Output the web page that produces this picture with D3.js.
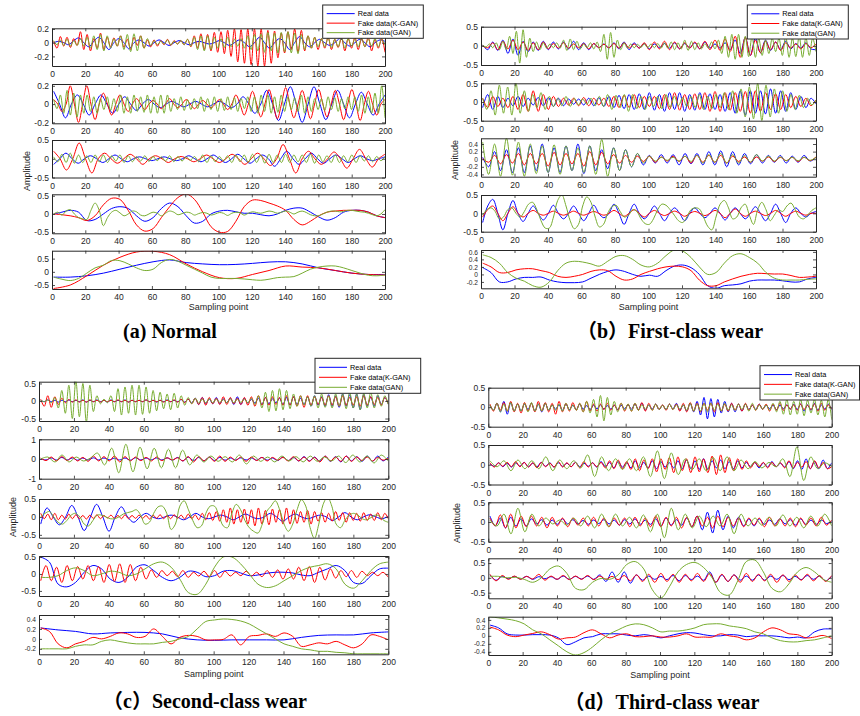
<!DOCTYPE html>
<html><head><meta charset="utf-8">
<script src="https://cdn.jsdelivr.net/npm/d3@7"></script>
<style>
body{margin:0;background:#fff}
svg{display:block}
</style></head><body>
<svg id="fig" width="860" height="716"></svg>
<script>
// ---- (a) Normal ----
const aReal1 = [0,.02,0,-.03,.03,.07,0,-.06,.02,.08,0,-.1,0,.06,0,-.09,0,.04,0,-.05,0,.04,0,-.04,0,.03,0,-.03,0,.02,0,-.02,0,.03,0,-.04,0,.04,0,-.06,0,.08,0,-.08,0,.06,0,-.1,0,.09,0,-.06,0,.05,0,-.04,0,.06,0,-.05,0,.05,0,-.06,0,.04,.02];
const aKgan1 = [.02,-.08,.09,-.05,.08,-.07,.06,-.04,.16,-.1,.12,-.12,.06,-.08,.14,-.1,.08,-.06,.07,-.05,.1,-.07,.05,-.1,.08,-.04,.1,-.08,.04,-.06,.04,-.05,.03,-.03,.05,-.04,.03,-.02,.03,-.03,.05,-.06,.1,-.08,.13,-.1,.12,-.12,.15,-.14,.16,-.16,.18,-.2,.2,-.28,.19,-.3,.2,-.32,.2,-.34,.2,-.34,.18,-.3,.17,-.22,.14,-.15,.16,-.1,.2,-.14,.18,-.12,.1,-.08,.08,-.1,.06,-.08,.08,-.1,.05,-.07,.07,-.12,.06,-.08,.08,-.1,.06,-.06,.08,-.12,.05,-.08,.06,-.14];
const aGan1 = [.03,-.03,.04,-.04,.05,-.05,.03,-.04,.06,-.05,.08,-.08,.1,-.1,.12,-.12,.1,-.08,.06,-.05,.1,-.1,.12,-.13,.13,-.12,.1,-.08,.06,-.04,.03,-.03,.02,-.02,.04,-.03,.02,-.02,.03,-.03,.05,-.05,.08,-.1,.1,-.12,.1,-.1,.08,-.08,.06,-.07,.08,-.06,.05,-.05,.06,-.08,.1,-.1,.12,-.12,.13,-.14,.15,-.12,.14,-.15,.15,-.13,.16,-.15,.14,-.16,.12,-.1,.1,-.08,.08,-.06,.06,-.06,.07,-.07,.05,-.06,.08,-.08,.06,-.05,.05,-.06,.07,-.06,.05,-.05,.06,-.06,.05,-.04];
const aReal2 = [.14,0,-.15,0,.1,0,-.12,0,.1,0,-.1,0,.08,0,-.07,0,.05,0,-.04,0,.03,0,-.03,0,.03,0,-.03,0,.03,0,-.04,0,.08,0,-.1,0,.15,0,-.18,0,.19,0,-.2,0,.19,0,-.17,0,.15,0,-.15,0,.13,0,-.12,0,.1];
const aKgan2 = [.05,0,-.08,0,.2,0,-.2,0,.2,0,-.17,0,.12,0,-.12,0,.1,0,-.08,0,.06,0,-.06,0,.04,0,-.05,0,.06,0,-.04,0,.05,0,-.05,0,.04,0,-.04,0,.05,0,-.06,0,.1,0,-.12,0,.14,0,-.14,0,.16,0,-.16,0,.18,0,-.15,0,.15,0,-.16,0,.16,0,-.14,0,.15,0,-.17,0,.16,0,-.18,0,.14,0,-.12,0,.05];
const aGan2 = [.05,-.05,.1,-.1,.15,-.12,.12,-.14,.1,-.1,.1,-.08,.08,-.1,.06,-.06,.08,-.07,.06,-.08,.1,-.1,.08,-.1,.1,-.08,.08,-.09,.1,-.1,.08,-.1,.1,-.1,.1,-.08,.06,-.06,.08,-.07,.05,-.06,.06,-.05,.08,-.08,.06,-.06,.08,-.08,.06,-.07,.08,-.06,.07,-.08,.06,-.05,.08,-.08,.08,-.1,.1,-.08,.1,-.1,.08,-.09,.1,-.08,.08,-.06,.07,-.08,.1,-.1,.08,-.08,.06,-.06,.06,-.07,.08,-.06,.07,-.08,.06,-.05,.08,-.06,.08,-.08,.1,-.1,.08,-.1,.12,-.1,.2,-.15];
const aReal3 = [-.15,0,.15,0,-.12,0,.08,0,-.1,0,.1,0,-.08,0,.05,0,-.05,0,.05,0,-.05,0,.08,0,-.08,0,.1,0,-.1,0,.12,0,-.12,0,.1,0,-.2,0,.2,0,-.15,0,.15,0,-.12,0,.1,0,-.1,0,.08,0,-.05,0,.05];
const aKgan3 = [.2,0,-.3,0,.42,0,-.38,0,.15,0,-.12,0,.12,0,-.15,0,.08,0,-.1,0,.06,0,-.08,0,.1,0,-.1,0,.12,0,-.15,0,.15,0,-.18,0,.38,0,-.38,0,.2,0,-.15,0,.18,0,-.25,0,.25,0,-.22,0,.12];
const aGan3 = [.05,-.08,.12,-.1,.15,-.12,.1,-.1,.08,-.1,.1,-.08,.1,-.1,.08,-.06,.1,-.1,.08,-.08,.06,-.06,.08,-.07,.06,-.05,.05,-.06,.08,-.08,.06,-.06,.05,-.04,.06,-.08,.1,-.1,.08,-.08,.06,-.06,.08,-.1,.1,-.08,.1,-.1,.12,-.1,.1,-.12,.12,-.1,.1,-.1,.12,-.1,.1,-.08,.1,-.1,.12,-.12,.1,-.08,.08,-.1,.1,-.1,.08,-.08,.1,-.1,.08,-.06,.08,-.08,.06,-.05,.05];
const aReal4 = [0,.05,.1,.05,-.18,-.15,0,.15,.2,.15,-.05,-.2,-.1,.15,.3,.2,-.05,-.25,-.2,0,.08,.1,.06,.02,.02,-.02,-.05,0,.1,.16,.16,.05,-.08,-.17,-.1,.05,.1,.1,.05,-.05,-.1];
const aKgan4 = [0,-.02,-.05,-.1,-.18,-.05,.25,.43,.4,.1,-.3,-.47,-.4,-.1,.2,.45,.55,.4,.05,-.35,-.5,-.48,-.2,.2,.38,.37,.3,.22,.1,-.15,-.3,-.2,-.05,.05,.08,.1,.1,.1,.05,-.05,-.1];
const aGan4 = [0,.05,-.03,.08,.12,0,-.1,-.13,-.15,.1,.3,.1,-.32,-.1,.05,.1,.03,-.05,0,.08,.06,-.03,-.05,0,.05,.02,-.05,.02,.08,.05,-.02,.01,.05,.03,-.03,.01,.04,.02,-.03,0,.04,.02,-.04,.02,.05,.03,-.03,.02,.06,.04,.02,.05,.08,.06,.02,.05,.08,.05,0,.05,.08,.04,-.02,-.05,-.05,0,.05,.08,.08,.06,.07,.1,.1,.08,.06,.05,.02,-.02,-.05,0,.12];
const aReal5 = [-.2,-.2,-.15,-.05,.1,.25,.38,.45,.35,.3,.27,.28,.32,.37,.38,.3,.15,.05,-.05,-.1,-.1];
const aKgan5 = [-.63,-.5,-.15,.25,.55,.75,.78,.65,.3,0,-.22,-.25,-.1,.05,.22,.18,.15,.05,-.05,-.1,-.12];
const aGan5 = [-.2,-.28,-.33,-.25,-.05,.15,.25,.43,.42,.3,.15,.05,.1,.35,.47,.4,.25,.1,-.05,-.2,-.25,-.25,-.25,-.27,-.3,-.32,-.28,-.22,-.2,-.18,-.05,.1,.18,.22,.22,.15,.05,-.05,-.13,-.15,-.12];

// ---- (b) First-class wear ----
const bReal1 = [.02,-.1,.1,-.12,.15,-.2,.18,-.25,.12,-.15,.1,-.12,.12,-.1,.1,-.08,.1,-.08,.12,-.1,.08,-.1,.06,-.05,.05,-.06,.08,-.08,.1,-.1,.08,-.06,.06,-.08,.05,-.05,.06,-.06,.08,-.08,.06,-.05,.08,-.08,.1,-.06,.05,-.06,.08,-.1,.15,-.2,.22,-.25,.2,-.18,.15,-.12,.1,-.1,.12,-.08,.06,-.06,.08,-.08,-.1];
const bKgan1 = [0,-.05,.08,-.1,.12,-.08,.15,-.1,.1,-.12,.08,-.1,.1,-.08,.06,-.06,.08,-.06,.05,-.05,.06,-.08,.06,-.05,.04,-.05,.06,-.06,.08,-.06,.05,-.06,.08,-.1,.1,-.08,.12,-.1,.1,-.08,.08,-.06,.1,-.08,.12,-.1,.15,-.12,.18,-.15,.25,-.3,.22,-.25,.15,-.18,.12,-.1,.1,-.12,.08,-.06,.05,-.08,.06,-.05,.05];
const bGan1 = [.02,-.03,.05,-.05,.08,-.1,.12,-.1,.25,-.2,.38,-.45,.42,-.3,.2,-.15,.1,-.1,.08,-.06,.05,-.05,.08,-.06,.15,-.12,.18,-.1,.12,-.08,.05,-.05,.08,-.08,.1,-.15,.3,-.35,.35,-.3,.15,-.1,.08,-.06,.05,-.05,.04,-.04,.05,-.05,.05,-.05,.06,-.06,.08,-.06,.1,-.1,.08,-.08,.15,-.12,.12,-.1,.08,-.08,.06,-.06,.1,-.08,.15,-.2,.25,-.3,.3,-.35,.3,-.3,.25,-.28,.25,-.3,.2,-.25,.15,-.2,.2,-.15,.2,-.25,.25,-.3,.2,-.28,.25,-.3,.22,-.25,.2,-.15];
const bReal2 = [-.15,.2,-.2,.15,-.15,.1,-.1,.15,-.12,.1,-.08,.12,-.1,.12,-.12,.1,-.1,.08,-.06,.08,-.08,.1,-.1,.12,-.12,.15,-.15,.18,-.18,.2,-.2,.22,-.2,.25,-.22,.2,-.25,.25,-.2,.25,-.25,.2,-.22,.25,-.2,.22,-.2,.2,-.25,.25,-.3,.3,-.35,.3,-.3,.3,-.32,.35,-.3,.3,-.25,.25,-.2,.15,-.15,.1,-.05];
const bKgan2 = [.1,-.15,.15,-.12,.1,-.15,.15,-.2,.2,-.25,.3,-.25,.2,-.2,.15,-.12,.1,-.08,.1,-.1,.12,-.1,.1,-.08,.1,-.12,.15,-.15,.18,-.15,.2,-.15,.15,-.12,.15,-.18,.2,-.2,.25,-.22,.2,-.2,.22,-.2,.25,-.25,.28,-.25,.25,-.22,.25,-.25,.28,-.3,.3,-.25,.25,-.2,.22,-.2,.2,-.15,.15,-.12,.1,-.1,.05];
const bGan2 = [.1,-.2,.3,-.35,.45,-.3,.4,-.35,.5,-.3,.3,-.25,.2,-.15,.25,-.2,.15,-.12,.1,-.1,.15,-.12,.1,-.08,.08,-.06,.1,-.1,.15,-.12,.2,-.2,.18,-.15,.2,-.25,.2,-.18,.15,-.2,.15,-.12,.15,-.18,.2,-.15,.15,-.1,.12,-.12,.15,-.15,.2,-.2,.15,-.18,.2,-.15,.25,-.2,.3,-.3,.35,-.4,.4,-.45,.5,-.5,.45,-.4,.35,-.3,.3,-.25,.2,-.2,.18,-.15,.1,-.08,.05];
const bReal3 = [.05,-.2,.2,-.3,.25,-.35,.3,-.35,.35,-.3,.4,-.35,.3,-.35,.35,-.3,.4,-.38,.35,-.3,.25,-.25,.3,-.3,.25,-.2,.15,-.15,.1,-.1,.12,-.1,.12,-.15,.15,-.12,.15,-.15,.2,-.15,.22,-.2,.2,-.15,.15,-.12,.12,-.1,.1,-.08,.1,-.1,.08,-.08,.1,-.05,.05];
const bKgan3 = [.02,-.08,.1,-.12,.12,-.1,.15,-.15,.15,-.12,.15,-.18,.18,-.15,.15,-.12,.15,-.18,.2,-.15,.18,-.12,.12,-.1,.1,-.08,.08,-.06,.08,-.08,.06,-.05,.08,-.06,.08,-.1,.1,-.08,.1,-.08,.1,-.1,.08,-.06,.06,-.08,.06,-.05,.06,-.06,.05,-.04,.05,-.06,.05,-.04,.06];
const bGan3 = [.45,-.4,.4,-.45,.55,-.42,.45,-.45,.4,-.38,.35,-.35,.38,-.4,.35,-.3,.3,-.35,.35,-.4,.52,-.45,.3,-.3,.25,-.2,.15,-.1,.08,-.05,.05,-.03,.05,-.05,.08,-.06,.1,-.1,.12,-.08,.15,-.1,.12,-.1,.1,-.08,.12,-.05,.08,-.05,.06,-.04,.05,-.04,.05,-.03,.05];
const bReal4 = [-.25,.2,.38,0,-.45,0,.35,0,-.22,0,.2,0,-.18,0,.22,0,-.15,0,.2,0,-.2,0,.22,0,-.12,0,.25,0,-.3,0,.25,0,-.15,0,.2,0,-.2,0,.15,0,-.2,0,.15,0,-.12,0,.15,0,-.18,0,.15,0,-.15,0,.18,0,-.2,0,.25,0,-.25,0,.15,0,-.1,0,.05];
const bKgan4 = [-.1,.1,.2,0,-.2,0,.18,0,-.1,0,.08,0,-.05,0,.06,0,-.05,0,.06,0,-.05,0,.05,0,-.05,0,.08,0,-.08,0,.1,0,-.1,0,.08,0,-.06,0,.06,0,-.08,0,.05,0,-.06,0,.08,0,-.12,0,.12,0,-.08,0,.06,0,-.06,0,.08,0,-.08,0,.06,0,-.05,0,0];
const bGan4 = [-.05,.1,.15,.05,-.15,-.1,.1,.15,0,-.1,.05,.25,.3,.1,-.2,-.4,-.4,-.1,.35,.5,.2,-.2,-.42,-.3,.2,.45,.3,-.1,-.37,-.3,0,.18,.22,.05,-.1,-.05,.1,.05,-.15,-.28,-.3,-.15,.1,.25,.22,.1,-.05,-.2,-.25,-.1,.1,.15,.12,-.1,-.35,-.45,-.1,.25,.35,.15,-.15,-.1,.15,.25,-.05,-.3,.1,.3,.1,-.2,-.05,.1,.05,.2,.28,.1,-.1,-.15,-.05,.08,.15];
const bReal5 = [.18,.05,-.2,-.2,-.12,-.08,-.08,-.07,-.15,-.2,-.22,-.22,-.2,-.1,0,.08,.12,.08,0,-.05,-.02,-.05,.1,.22,.25,.18,0,-.3,-.37,-.3,-.28,-.25,-.18,-.15,-.15,-.15,-.17,-.2,-.2,-.12,-.08];
const bKgan5 = [.3,.2,.05,.05,.12,.15,.15,.1,.05,-.05,-.08,-.05,0,.08,.12,.1,-.05,-.15,-.12,0,.08,.15,.2,.22,.2,.1,-.15,-.3,-.3,-.2,-.12,-.05,0,.03,.02,.01,.01,-.03,-.08,-.07,-.05];
const bGan5 = [.52,.45,.3,.05,-.1,-.18,-.3,-.34,-.2,.1,.3,.35,.33,.28,.22,.35,.48,.5,.4,.25,.2,.3,.5,.65,.62,.45,.2,0,.05,.3,.5,.55,.45,.3,.05,-.1,-.15,-.15,-.15,-.13,-.12];

// ---- (c) Second-class wear ----
const cReal1 = [.02,-.02,.03,-.02,.02,-.03,.02,-.02,.03,-.02,.02,-.02,.03,-.03,.02,-.02,.03,-.02,.02,-.03,.03,-.02,.02,-.02,.03,-.03,.02,-.02,.02,-.02,.03,-.02,.02,-.03,.02,-.02,.03,-.02,.02,-.02,.04,-.03,.05,-.06,.08,-.1,.1,-.08,.06,-.08,.1,-.08,.06,-.05,.08,-.1,.12,-.1,.08,-.06,.05,-.06,.08,-.1,.1,-.08,.06,-.05,.08,-.1,.1,-.12,.12,-.1,.08,-.1,.12,-.15,.15,-.12,.12,-.15,.18,-.15,.15,-.18,.2,-.15,.18,-.2,.2,-.25,.18,-.15,.12,-.15,.15,-.1,.1,-.08];
const cKgan1 = [.05,-.15,.15,-.18,.12,-.1,.08,-.05,.04,-.03,.03,-.03,.02,-.03,.03,-.02,.02,-.03,.02,-.02,.02,-.02,.03,-.02,.02,-.03,.02,-.02,.02,-.02,.03,-.02,.02,-.02,.02,-.03,.02,-.02,.03,-.03,.05,-.05,.06,-.08,.08,-.1,.1,-.12,.1,-.08,.08,-.1,.12,-.1,.1,-.08,.08,-.1,.1,-.12,.12,-.15,.15,-.12,.1,-.12,.12,-.1,.1,-.12,.15,-.12,.12,-.15,.15,-.18,.15,-.12,.12,-.1,.1,-.12,.15,-.12,.12,-.15,.15,-.12,.1,-.12,.12,-.15,.15,-.12,.12,-.1,.1,-.12,.1,-.08];
const cGan1 = [.02,-.02,.03,-.05,.1,-.2,.3,-.35,.45,-.5,.57,-.45,.5,-.6,.45,-.3,.15,-.08,.05,-.05,.15,-.3,.35,-.4,.4,-.35,.45,-.4,.45,-.38,.4,-.35,.3,-.28,.25,-.22,.2,-.25,.22,-.2,.15,-.12,.1,-.08,.08,-.06,.05,-.05,.06,-.05,.05,-.04,.04,-.05,.06,-.05,.05,-.04,.05,-.05,.08,-.1,.15,-.2,.25,-.3,.3,-.28,.35,-.25,.3,-.22,.2,-.15,.15,-.12,.12,-.15,.15,-.2,.2,-.18,.15,-.2,.2,-.15,.2,-.22,.25,-.2,.2,-.25,.22,-.2,.25,-.2,.18,-.15,.15,-.1];
const cReal2 = [.02,-.05,.05,-.05,.08,-.05,.05,-.06,.05,-.05,.06,-.05,.05,-.04,.04,-.05,.05,-.06,.06,-.05,.05,-.04,.05,-.05,.06,-.06,.08,-.1,.1,-.08,.08,-.1,.1,-.08,.08,-.06,.05,-.05,.06,-.05,.05,-.06,.08,-.06,.05,-.08,.1,-.08,.08,-.1,.12,-.1,.1,-.12,.15,-.12,.12,-.15,.15,-.1,.12,-.12,.15,-.12,.15,-.1,.1];
const cKgan2 = [.05,-.08,.1,-.1,.12,-.08,.1,-.1,.08,-.12,.15,-.1,.12,-.1,.15,-.15,.12,-.1,.1,-.08,.08,-.1,.1,-.08,.06,-.05,.06,-.1,.12,-.15,.12,-.1,.1,-.12,.15,-.12,.1,-.08,.1,-.12,.1,-.08,.08,-.1,.08,-.06,.08,-.1,.12,-.1,.1,-.12,.08,-.15,.15,-.1,.1,-.12,.15,-.12,.1,-.08,.1,-.1,.08,-.06,.05];
const cGan2 = [0,.1,-.15,.2,-.15,.1,-.1,.05,.3,-.3,.55,-.7,.75,-.65,.6,-.5,.55,-.45,.5,-.45,.45,-.3,.2,-.15,.15,-.12,.12,-.15,.2,-.25,.15,-.12,.1,-.15,.15,-.1,.12,-.15,.15,-.12,.1,-.1,.15,-.18,.2,-.15,.15,-.2,.2,-.1];
const cReal3 = [-.2,.25,0,-.22,0,.32,0,-.38,0,.35,0,-.4,0,.28,0,-.15,0,.1,0,-.05,0,.05,0,-.08,0,.1,0,-.05,0,.05,0,-.08,0,.08,0,-.05,0,.1,0,-.12,0,.08,0,-.05,0,.05,0,-.1,0,.12,0,-.08,0,.06,0,-.05,.02];
const cKgan3 = [.1,-.05,.08,-.08,.1,-.08,.05,-.06,.08,-.05,.06,-.05,.04,-.06,.05,-.04,.06,-.05,.04,-.03,.05,-.04,.04,-.05,.06,-.05,.04,-.04,.05,-.04,.04,-.06,.05,-.04,.06,-.05,.04,-.05,.06,-.04,.05,-.06,.08,-.05,.06,-.08,.1,-.08,.12,-.1,.15,-.12,.2,-.15,.25,-.2,.2,-.15,.22,-.2,.2,-.25,.25,-.2,.18,-.22,.22,-.15,.2,-.2,.25,-.2,.2,-.18,.15,-.15,.18,-.2,.15,-.12,.12,-.15,.1,-.12,.15,-.1,.12,-.15,.12,-.1,.1,-.12,.12,-.1,.08,-.1,.12,-.08,.1,-.05];
const cGan3 = [0,.1,.15,0,-.15,-.2,-.1,.05,.1,0,-.2,-.25,-.1,.05,.05,0,-.05,-.05,0,.08,.12,.15,.2,.05,-.2,-.15,.1,.28,.3,.1,-.35,-.2,.3,.45,.2,-.1,-.3,-.25,.1,.3,.3,.05,-.25,-.3,.1,.35,.2,-.1,-.3,-.4,-.45,-.2,.15,.3,.45,.2,-.2,-.4,-.2,.2,.48,.3,-.3,-.6,-.2,.35,.55,.3,-.2,-.3,-.1,.05,.1,.05,-.05,-.08,-.02,.05,.02,-.1,-.15];
const cReal4 = [.5,.35,-.3,-.38,-.25,.05,.25,.15,-.15,-.25,-.1,.2,.27,.1,-.1,-.2,-.1,.08,.05,-.08,-.05,.08,.1,.03,-.05,-.03,.02,.05,.05,.03,-.03,-.05,.05,.15,.25,.1,-.25,-.28,-.05,.15,.17];
const cKgan4 = [-.2,.25,-.2,.2,-.25,.25,-.2,.22,-.15,.25,-.2,.22,-.25,.28,-.22,.3,-.25,.28,-.2,.2,-.15,.12,-.1,.1,-.05,.08,-.08,.1,-.1,.05,-.06,.08,-.08,.1,-.1,.08,-.06,.05,-.05,.08,-.06,.05,-.08,.1,-.1,.12,-.15,.15,-.15,.2,-.2,.22,-.25,.2,-.18,.15,-.12,.1,-.08,.1,-.1,.08,-.05,.05,-.05,.05,-.1];
const cGan4 = [-.1,-.1,-.05,.1,.18,.1,-.05,0,.08,.05,-.05,0,.15,.3,.35,.2,-.15,-.55,-.6,-.3,.2,.5,.5,.3,0,-.3,-.4,-.35,-.2,-.05,.1,.2,.25,.3,.15,-.3,-.42,-.2,.1,.3,.35];
const cReal5 = [.22,.18,.15,.1,.12,.13,.13,.1,.02,-.02,-.03,-.02,-.02,-.02,-.02,.03,.07,.08,.08,.12,.14];
const cKgan5 = [.22,.15,-.1,-.18,-.1,-.05,.03,0,.05,.12,.1,.03,.05,.2,.05,-.1,.03,.07,.05,-.02,-.02,-.01,.08,-.12,.05,.07,.1,.05,.12,.05,-.15,-.12,-.08,-.1,-.05,-.12,-.18,-.1,.08,.05,-.02];
const cGan5 = [-.2,-.2,-.2,-.2,-.15,-.12,-.12,-.05,-.02,-.05,-.08,-.1,-.1,-.1,-.07,-.05,0,.05,.2,.35,.38,.4,.39,.36,.3,.2,.1,0,-.1,-.15,-.2,-.22,-.25,-.25,-.27,-.28,-.3,-.3,-.3,-.3,-.3];

// ---- (d) Third-class wear ----
const dReal1 = [.05,-.08,.1,-.12,.15,-.18,.12,-.1,.08,-.1,.08,-.06,.1,-.1,.08,-.12,.1,-.08,.06,-.05,.06,-.08,.08,-.06,.05,-.06,.08,-.05,.04,-.06,.05,-.04,.06,-.05,.04,-.05,.05,-.06,.05,-.04,.06,-.05,.08,-.06,.1,-.08,.06,-.05,.08,-.06,.05,-.06,.08,-.05,.1,-.08,.06,-.1,.1,-.12,.15,-.2,.25,-.3,.22,-.25,.2,-.15,.15,-.12,.1,-.12,.08,-.1,.08,-.06,.05,-.06,.08,-.05,.05,-.04,.05,-.06,.05,-.04,.06,-.05,.08,-.06,.08,-.1,.06,-.08,.1,-.08,.06,-.05,.08,-.06];
const dKgan1 = [.08,-.1,.1,-.08,.12,-.1,.15,-.12,.1,-.15,.12,-.1,.1,-.12,.15,-.1,.12,-.12,.1,-.18,.15,-.12,.1,-.1,.12,-.08,.1,-.12,.15,-.1,.08,-.1,.08,-.06,.1,-.08,.06,-.08,.1,-.1,.08,-.1,.1,-.08,.12,-.1,.1,-.08,.08,-.06,.06,-.08,.08,-.06,.08,-.1,.1,-.12,.12,-.1,.1,-.12,.1,-.08,.1,-.12,.12,-.1,.08,-.1,.1,-.08,.08,-.1,.1,-.08,.06,-.08,.08,-.06,.08,-.1,.08,-.08,.1,-.08,.06,-.05,.06,-.08,.08,-.06,.05,-.06,.08,-.1,.1,-.08,.06,-.05];
const dGan1 = [.05,-.08,.1,-.12,.08,-.1,.12,-.1,.08,-.1,.1,-.12,.12,-.1,.08,-.1,.1,-.08,.06,-.08,.08,-.1,.1,-.08,.06,-.08,.1,-.12,.15,-.15,.2,-.25,.3,-.35,.25,-.2,.15,-.12,.1,-.08,.08,-.1,.1,-.08,.06,-.05,.06,-.08,.08,-.06,.05,-.06,.08,-.06,.06,-.05,.06,-.08,.1,-.1,.08,-.1,.1,-.12,.1,-.08,.08,-.1,.1,-.08,.06,-.08,.08,-.06,.08,-.1,.1,-.08,.06,-.05,.06,-.08,.1,-.12,.15,-.18,.2,-.2,.15,-.18,.2,-.22,.18,-.15,.2,-.2,.18,-.25,.2,-.32];
const dReal2 = [.02,-.04,.05,-.05,.04,-.06,.05,-.04,.06,-.05,.04,-.05,.06,-.04,.05,-.06,.05,-.04,.04,-.05,.06,-.05,.04,-.04,.05,-.06,.08,-.05,.06,-.08,.08,-.06,.05,-.08,.1,-.08,.06,-.08,.1,-.1,.08,-.06,.05,-.08,.1,-.1,.12,-.1,.1,-.12,.15,-.12,.1,-.08,.12,-.1,.08,-.1,.1,-.08,.06,-.05,.06,-.08,.05,-.06,.08,-.05,.04,-.06,.08,-.1,.1,-.12,.15,-.1,.08,-.1,.12,-.1,.05];
const dKgan2 = [.05,-.06,.05,-.04,.06,-.05,.08,-.05,.06,-.06,.05,-.08,.06,-.05,.04,-.06,.08,-.06,.05,-.05,.06,-.08,.08,-.06,.05,-.05,.06,-.08,.1,-.1,.12,-.1,.08,-.12,.15,-.15,.12,-.1,.15,-.18,.15,-.12,.18,-.2,.2,-.15,.15,-.2,.2,-.18,.15,-.2,.22,-.25,.25,-.2,.18,-.15,.15,-.12,.1,-.08,.06,-.05,.06,-.08,.06,-.05,.05,-.08,.1,-.08,.06,-.06,.08,-.1,.1,-.08,.06,-.1,-.05];
const dGan2 = [.1,-.05,.1,-.15,.12,-.1,.1,-.1,.2,-.15,.12,-.1,.1,-.08,.25,-.3,.2,-.15,.15,-.12,.15,-.15,.2,-.3,.35,-.35,.3,-.25,.15,-.12,.15,-.15,.18,-.15,.2,-.15,.12,-.1,.08,-.08,.06,-.05,.15,-.3,.45,-.4,.2,-.1,.05,-.05];
const dReal3 = [.15,-.1,.1,-.15,.12,-.1,.08,-.1,.08,-.05,.06,-.08,.05,-.06,.08,-.05,.06,-.05,.04,-.06,.05,-.04,.06,-.05,.05,-.08,.06,-.05,.08,-.06,.05,-.06,.08,-.1,.1,-.08,.06,-.08,.1,-.12,.15,-.2,.25,-.28,.3,-.2,.15,-.15,.12,-.1,.08,-.1,.08,-.06,.05,-.06,.08,-.05,.06,-.08,.08,-.06,.05,-.06,.05,-.04,.02];
const dKgan3 = [.1,-.1,.18,-.15,.2,-.15,.15,-.12,.15,-.1,.12,-.15,.12,-.1,.1,-.12,.1,-.08,.1,-.1,.12,-.1,.1,-.12,.1,-.08,.1,-.12,.12,-.1,.1,-.12,.15,-.12,.12,-.1,.12,-.15,.12,-.12,.15,-.1,.12,-.15,.15,-.12,.12,-.1,.1,-.12,.1,-.08,.1,-.12,.12,-.1,.08,-.1,.1,-.12,.1,-.08,.1,-.1,.12,-.08,.05];
const dGan3 = [.05,-.1,.2,-.3,.35,-.25,.2,-.1,.1,-.05,.05,-.08,.1,-.1,.15,-.15,.2,-.12,.2,-.1,.12,-.15,.18,-.25,.2,-.4,.35,-.2,.2,-.15,.15,-.12,.15,-.1,.2,-.3,.2,-.1,.1,-.08,.12,-.1,.18,-.1,.12,-.15,.15,-.1,.2,-.1];
const dReal4 = [.1,-.08,.05,-.03,.05,-.04,.05,-.05,.04,-.03,.04,-.05,.06,-.05,.05,-.04,.06,-.05,.1,-.12,.2,-.15,.2,-.18,.1,-.08,.06,-.05,.05,-.06,.08,-.1,.08,-.06,.06,-.08,.2,-.15,.1,-.12,.1,-.08,.06,-.08,.1,-.08,.06,-.05,.08,-.06,.05,-.06,.08,-.05,.06,-.1,.05];
const dKgan4 = [.12,-.1,.08,-.05,.06,-.05,.05,-.04,.12,-.08,.06,-.05,.08,-.06,.06,-.05,.08,-.06,.06,-.05,.05,-.06,.08,-.1,.1,-.12,.12,-.15,.15,-.12,.12,-.15,.12,-.1,.15,-.12,.15,-.15,.12,-.12,.1,-.15,.15,-.12,.12,-.1,.12,-.15,.1,-.12,.1,-.08,.12,-.1,.08,-.12,.08];
const dGan4 = [.05,.05,0,.02,-.05,-.15,0,.3,.4,.15,-.35,-.4,-.15,-.02,-.05,.1,.45,.55,.3,-.4,-.68,-.3,.2,.45,.52,.35,0,-.5,-.58,-.1,.55,.6,.2,-.35,-.47,-.2,.2,.35,.2,-.05,-.15];
const dReal5 = [.27,.2,.05,.02,.02,.03,.03,.02,-.05,-.22,-.15,-.05,-.02,.05,.05,.05,.02,0,.03,0,-.05,0,.05,.08,.07,.03,0,0,.03,.02,-.02,0,0,0,-.02,-.05,-.03,-.05,.1,.17,.17];
const dKgan5 = [.22,.15,.02,-.02,.02,.06,.1,.03,-.08,-.05,-.03,.08,.15,.05,-.05,.02,.05,-.02,-.02,0,-.03,-.03,0,.05,-.03,-.03,-.03,.05,0,-.03,-.1,-.05,.1,.2,.15,.05,.03,-.05,-.03,.01,-.07];
const dGan5 = [.48,.45,.42,.38,.3,.15,.05,-.1,-.25,-.4,-.48,-.42,-.28,-.1,.05,.15,.25,.3,.28,.2,.1,.12,.12,.15,.2,.28,.3,.3,.25,.22,.18,.1,.05,-.05,-.12,-.15,-.15,-.12,-.1,-.05,0];

// y-axis limits and ticks of each row
const aYDomains = [[-0.34, 0.21], [-0.21, 0.22], [-0.5, 0.5], [-0.53, 0.54], [-0.65, 0.8]];
const bYDomains = [[-0.5, 0.5], [-0.5, 0.5], [-0.46, 0.55], [-0.5, 0.5], [-0.37, 0.65]];
const cYDomains = [[-0.57, 0.55], [-1, 1], [-0.58, 0.5], [-0.65, 0.53], [-0.31, 0.48]];
const dYDomains = [[-0.5, 0.5], [-0.5, 0.5], [-0.5, 0.5], [-0.69, 0.66], [-0.48, 0.48]];
const aYTicks = [[-0.2, 0, 0.2], [-0.2, 0, 0.2], [-0.5, 0, 0.5], [-0.5, 0, 0.5], [-0.5, 0, 0.5]];
const bYTicks = [[-0.5, 0, 0.5], [-0.5, 0, 0.5], [-0.4, -0.2, 0, 0.2, 0.4], [-0.5, 0, 0.5], [-0.2, 0, 0.2, 0.4, 0.6]];
const cYTicks = [[-0.5, 0, 0.5], [-1, 0, 1], [-0.5, 0, 0.5], [-0.5, 0, 0.5], [-0.2, 0, 0.2, 0.4]];
const dYTicks = [[-0.5, 0, 0.5], [-0.5, 0, 0.5], [-0.5, 0, 0.5], [-0.5, 0, 0.5], [-0.4, -0.2, 0, 0.2, 0.4]];
const xTicks = d3.range(0, 201, 20);

const seriesNames = ['Real data', 'Fake data(K-GAN)', 'Fake data(GAN)'];
const seriesColors = ['#0000ff', '#ff0000', '#77ac30'];
const captions = ['(a) Normal', '（b）First-class wear', '（c）Second-class wear', '（d）Third-class wear'];

// pixel layout of the four panels
const frames = [
  { x0: 52, x1: 385, rows: [[28.3, 66], [84, 123.3], [140, 177.5], [194.3, 233.3], [250.7, 289]],
    ampX: 27, ampY: 171, xlabY: 310, legend: [322.7, 5, 100.6, 33.3], capX: 170, capY: 338 },
  { x0: 481, x1: 816, rows: [[26.7, 65], [83.3, 120.7], [138.3, 176.7], [195, 231.7], [250, 288.3]],
    ampX: 455, ampY: 160, xlabY: 310, legend: [747.3, 5, 101, 34], capX: 670, capY: 338 },
  { x0: 39, x1: 388.3, rows: [[381.7, 421], [439.3, 478.7], [499, 537.7], [556, 596], [615, 654.3]],
    ampX: 13, ampY: 517, xlabY: 677, legend: [315, 358.3, 105.7, 35], capX: 205, capY: 708 },
  { x0: 488.3, x1: 831.7, rows: [[387.7, 426.7], [445, 484.5], [502.3, 541.7], [558.3, 598.3], [616.7, 655]],
    ampX: 457, ampY: 523, xlabY: 677.5, legend: [760, 365.7, 99.5, 34.3], capX: 662, capY: 709 }
];

const panels = [
  { frame: frames[0], doms: aYDomains, ticks: aYTicks,
    rows: [[aReal1, aKgan1, aGan1], [aReal2, aKgan2, aGan2], [aReal3, aKgan3, aGan3], [aReal4, aKgan4, aGan4], [aReal5, aKgan5, aGan5]] },
  { frame: frames[1], doms: bYDomains, ticks: bYTicks,
    rows: [[bReal1, bKgan1, bGan1], [bReal2, bKgan2, bGan2], [bReal3, bKgan3, bGan3], [bReal4, bKgan4, bGan4], [bReal5, bKgan5, bGan5]] },
  { frame: frames[2], doms: cYDomains, ticks: cYTicks,
    rows: [[cReal1, cKgan1, cGan1], [cReal2, cKgan2, cGan2], [cReal3, cKgan3, cGan3], [cReal4, cKgan4, cGan4], [cReal5, cKgan5, cGan5]] },
  { frame: frames[3], doms: dYDomains, ticks: dYTicks,
    rows: [[dReal1, dKgan1, dGan1], [dReal2, dKgan2, dGan2], [dReal3, dKgan3, dGan3], [dReal4, dKgan4, dGan4], [dReal5, dKgan5, dGan5]] }
];

const svg = d3.select('#fig');
const defs = svg.append('defs');
const AXC = '#262626';
const FONT = 'Arial, "Liberation Sans", sans-serif';
const TICK_FS = 8.5;
const fmt = d => String(d);

function styleAxis(g, showText, fs) {
  g.attr('font-family', FONT).attr('font-size', fs);
  g.select('.domain').attr('stroke', AXC).attr('stroke-width', 1);
  g.selectAll('.tick line').attr('stroke', AXC).attr('stroke-width', 0.8);
  g.selectAll('.tick text').attr('fill', AXC);
  if (!showText) g.selectAll('.tick text').remove();
}

panels.forEach((p, pi) => {
  const f = p.frame;
  const x = d3.scaleLinear().domain([0, 200]).range([f.x0, f.x1]);

  p.rows.forEach((series, r) => {
    const [top, bot] = f.rows[r];
    const y = d3.scaleLinear().domain(p.doms[r]).range([bot, top]);
    const clipId = `clip-${pi}-${r}`;
    defs.append('clipPath').attr('id', clipId).append('rect')
      .attr('x', f.x0).attr('y', top).attr('width', f.x1 - f.x0).attr('height', bot - top);

    const lg = svg.append('g').attr('clip-path', `url(#${clipId})`);
    series.forEach((vals, k) => {
      // samples are evenly spread over sampling points 1..200
      const xi = d3.scaleLinear().domain([0, vals.length - 1]).range([1, 200]);
      const line = d3.line()
        .x((d, i) => x(xi(i)))
        .y(d => y(d))
        .curve(d3.curveCatmullRom.alpha(0.5));
      lg.append('path').datum(vals).attr('d', line)
        .attr('fill', 'none').attr('stroke', seriesColors[k]).attr('stroke-width', 1);
    });

    // crowded y ticks get a smaller font so labels stay apart
    const tv = p.ticks[r];
    const gap = Math.abs(y(tv[1]) - y(tv[0]));
    const yFs = gap < 10 ? 6.6 : TICK_FS;

    svg.append('g').attr('transform', `translate(0,${bot})`)
      .call(d3.axisBottom(x).tickValues(xTicks).tickSizeInner(-3).tickSizeOuter(0).tickPadding(5))
      .call(g => styleAxis(g, true, TICK_FS));
    svg.append('g').attr('transform', `translate(0,${top})`)
      .call(d3.axisTop(x).tickValues(xTicks).tickSizeInner(-3).tickSizeOuter(0))
      .call(g => styleAxis(g, false, TICK_FS));
    svg.append('g').attr('transform', `translate(${f.x0},0)`)
      .call(d3.axisLeft(y).tickValues(tv).tickFormat(fmt).tickSizeInner(-3).tickSizeOuter(0).tickPadding(3))
      .call(g => styleAxis(g, true, yFs));
    svg.append('g').attr('transform', `translate(${f.x1},0)`)
      .call(d3.axisRight(y).tickValues(tv).tickSizeInner(-3).tickSizeOuter(0))
      .call(g => styleAxis(g, false, yFs));
  });

  svg.append('text').attr('x', (f.x0 + f.x1) / 2).attr('y', f.xlabY)
    .attr('text-anchor', 'middle').attr('font-family', FONT).attr('font-size', 9).attr('fill', AXC)
    .text('Sampling point');
  svg.append('text').attr('transform', `translate(${f.ampX},${f.ampY}) rotate(-90)`)
    .attr('text-anchor', 'middle').attr('dy', '0.35em').attr('font-family', FONT).attr('font-size', 9).attr('fill', AXC)
    .text('Amplitude');

  // legend
  const [lx, ly, lw, lh] = f.legend;
  const leg = svg.append('g');
  leg.append('rect').attr('x', lx).attr('y', ly).attr('width', lw).attr('height', lh)
    .attr('fill', '#fff').attr('stroke', AXC).attr('stroke-width', 1);
  seriesNames.forEach((name, k) => {
    const yy = ly + lh * (k + 0.75) / 3.5 + 1.5;
    leg.append('line').attr('x1', lx + 4).attr('x2', lx + 32).attr('y1', yy).attr('y2', yy)
      .attr('stroke', seriesColors[k]).attr('stroke-width', 1);
    leg.append('text').attr('x', lx + 35).attr('y', yy).attr('dy', '0.35em')
      .attr('font-family', FONT).attr('font-size', 7.3).attr('fill', '#000').text(name);
  });

  svg.append('text').attr('x', f.capX).attr('y', f.capY).attr('text-anchor', 'middle')
    .attr('font-family', '"Liberation Serif", "Times New Roman", "Noto Sans CJK SC", serif')
    .attr('font-weight', 'bold').attr('font-size', 20).attr('fill', '#000')
    .text(captions[pi]);
});
</script>
</body></html>
